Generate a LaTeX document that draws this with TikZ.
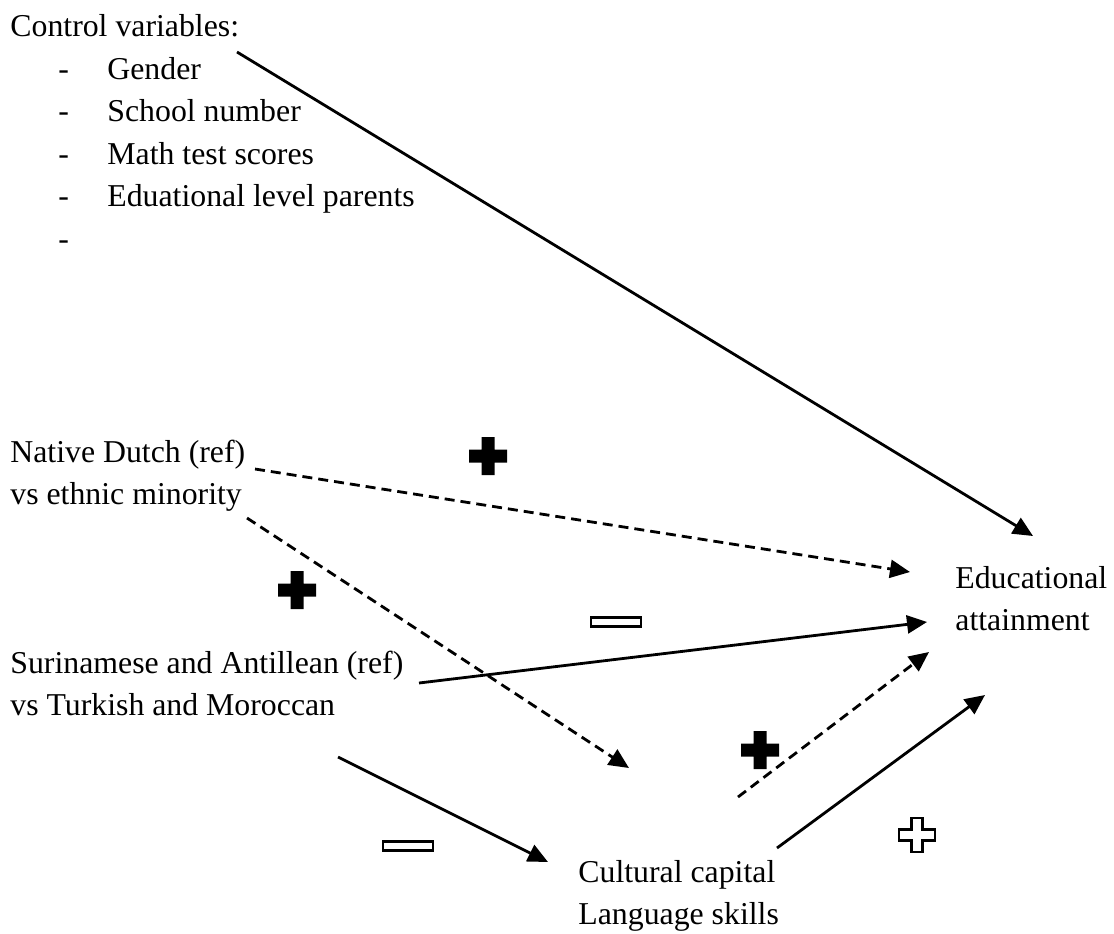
\documentclass[tikz,border=0pt]{standalone}
\usepackage{fontspec}
\setmainfont{Liberation Serif}
\usetikzlibrary{arrows.meta}

\tikzset{
    lbl/.style={anchor=base west, inner sep=0pt, align=left},
    arr/.style={-{Triangle[length=10pt, width=9pt]}, line width=1.4pt},
    dasharr/.style={arr, dash pattern=on 5pt off 3pt},
    plusmark/.pic={\fill (-19,-6.5) -- (-6.5,-6.5) -- (-6.5,-19) -- (6.5,-19) -- (6.5,-6.5) -- (19,-6.5)
        -- (19,6.5) -- (6.5,6.5) -- (6.5,19) -- (-6.5,19) -- (-6.5,6.5) -- (-19,6.5) -- cycle;},
    openplus/.pic={\draw[line width=1.1pt] (-18,-5.5) -- (-5.5,-5.5) -- (-5.5,-17) -- (5.5,-17) -- (5.5,-5.5) -- (18,-5.5)
        -- (18,5.5) -- (5.5,5.5) -- (5.5,17) -- (-5.5,17) -- (-5.5,5.5) -- (-18,5.5) -- cycle;},
    minusmark/.pic={\draw[line width=1.1pt] (-25,-4.5) rectangle (25,4.5);}
}

\begin{document}
\begin{tikzpicture}[x=0.5pt, y=-0.5pt, every node/.style={font=\fontsize{15.9}{21}\selectfont}]
    \useasboundingbox (0,0) rectangle (1114,933);

    % control variables
    \node[lbl] (ctrl) at (10,36) {Control variables:};
    \node[lbl] (d1) at (58,79) {-};
    \node[lbl] (gender) at (107,79) {Gender};
    \node[lbl] (d2) at (58,121) {-};
    \node[lbl] (school) at (107,121) {School number};
    \node[lbl] (d3) at (58,164) {-};
    \node[lbl] (math) at (107,164) {Math test scores};
    \node[lbl] (d4) at (58,206) {-};
    \node[lbl] (parents) at (107,206) {Eduational level parents};
    \node[lbl] (d5) at (58,249) {-};

    % variables (base = last line)
    \node[lbl] (dutch) at (10,504) {Native Dutch (ref)\\vs ethnic minority};
    \node[lbl] (surin) at (10,715) {Surinamese and Antillean (ref)\\vs Turkish and Moroccan};
    \node[lbl] (edu) at (955,630) {Educational\\attainment};
    \node[lbl] (cult) at (578,924) {Cultural capital\\Language skills};

    % arrow ends
    \coordinate (ctrl-out) at (237,52);
    \coordinate (edu-in0) at (1033,536);
    \coordinate (dutch-out1) at (255,469);
    \coordinate (edu-in1) at (910,572);
    \coordinate (dutch-out2) at (247,518);
    \coordinate (cult-in1) at (629,768);
    \coordinate (surin-out) at (419,683);
    \coordinate (edu-in2) at (927,622);
    \coordinate (cult-out1) at (738,797);
    \coordinate (edu-in3) at (929,652);
    \coordinate (surin-out2) at (338,757);
    \coordinate (cult-in2) at (548,862);
    \coordinate (cult-out2) at (777,848);
    \coordinate (edu-in4) at (985,695);

    \draw[arr] (ctrl-out) -- (edu-in0);
    \draw[dasharr] (dutch-out1) -- (edu-in1);
    \draw[dasharr] (dutch-out2) -- (cult-in1);
    \draw[arr] (surin-out) -- (edu-in2);
    \draw[dasharr] (cult-out1) -- (edu-in3);
    \draw[arr] (surin-out2) -- (cult-in2);
    \draw[arr] (cult-out2) -- (edu-in4);

    % signs
    \pic at (488,456) {plusmark};
    \pic at (297,590) {plusmark};
    \pic at (760,750) {plusmark};
    \pic at (917,835) {openplus};
    \pic at (616,622) {minusmark};
    \pic at (408,846) {minusmark};
\end{tikzpicture}
\end{document}
